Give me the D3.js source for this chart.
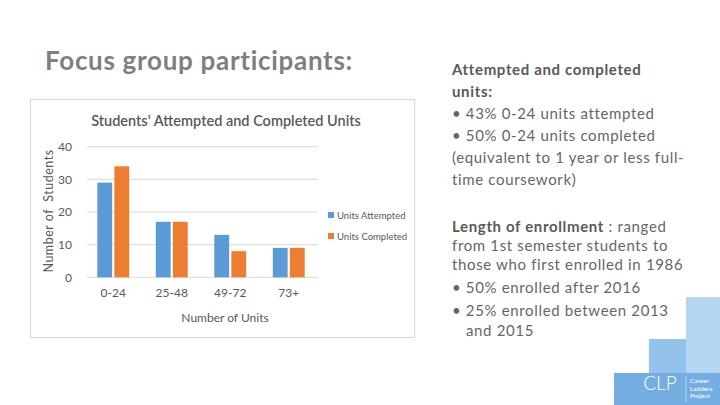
<!DOCTYPE html>
<html><head><meta charset="utf-8">
<script src="https://cdnjs.cloudflare.com/ajax/libs/d3/7.8.5/d3.min.js"></script>
<style>
html,body{margin:0;padding:0;background:#fff;}
svg{display:block;}
</style></head>
<body>
<svg id="c" width="720" height="405"></svg>
<script>
const categories = ["0-24", "25-48", "49-72", "73+"];
const seriesNames = ["Units Attempted", "Units Completed"];
const attempted = [29, 17, 13, 9];
const completed = [34, 17, 8, 9];
const yTicks = [0, 10, 20, 30, 40];

const colors = ["#5b9bd5", "#ed7d31"];
const svg = d3.select("#c");
const F = "Lato, 'Open Sans', sans-serif";

// slide title
svg.append("text").attr("x", 45).attr("y", 70).attr("font-family", F)
  .attr("font-weight", 700).attr("font-size", 26).attr("letter-spacing", 0.7).attr("fill", "#7f7f7f")
  .text("Focus group participants:");

// chart box
svg.append("rect").attr("x", 30.5).attr("y", 99.5).attr("width", 384).attr("height", 238)
  .attr("fill", "#fff").attr("stroke", "#d9d9d9").attr("stroke-width", 1.2);

const x0 = d3.scaleBand().domain(categories).range([84, 318]).paddingInner(0).paddingOuter(0);
const x1 = d3.scaleBand().domain(seriesNames).range([0, x0.bandwidth()]).paddingInner(0.13).paddingOuter(0.78);
const y = d3.scaleLinear().domain([0, 40]).range([277.3, 146.7]);

// gridlines
svg.append("g").selectAll("line").data(yTicks).join("line")
  .attr("x1", 87).attr("x2", 318).attr("y1", d => y(d)).attr("y2", d => y(d))
  .attr("stroke", "#d9d9d9").attr("stroke-width", 1);

// y axis labels
const yAxis = d3.axisLeft(y).tickValues(yTicks).tickSize(0).tickPadding(0);
const gy = svg.append("g").attr("transform", "translate(72,0)").call(yAxis);
gy.select(".domain").remove();
gy.selectAll("text").attr("font-family", F).attr("font-size", 12).attr("fill", "#595959");

// x axis labels
const xAxis = d3.axisBottom(x0).tickSize(0).tickPadding(0);
const gx = svg.append("g").attr("transform", "translate(0,288)").call(xAxis);
gx.select(".domain").remove();
gx.selectAll("text").attr("font-family", F).attr("font-size", 12).attr("fill", "#595959");

// bars
const data = categories.map((c, i) => ({c, vals: [attempted[i], completed[i]]}));
const groups = svg.append("g").selectAll("g").data(data).join("g")
  .attr("transform", d => `translate(${x0(d.c)},0)`);
groups.selectAll("rect").data(d => d.vals.map((v, j) => ({name: seriesNames[j], v, j}))).join("rect")
  .attr("x", d => x1(d.name)).attr("width", x1.bandwidth())
  .attr("y", d => y(d.v)).attr("height", d => y(0) - y(d.v))
  .attr("fill", d => colors[d.j]);

// chart title
svg.append("text").attr("x", 226).attr("y", 126).attr("text-anchor", "middle")
  .attr("font-family", F).attr("font-weight", 600).attr("font-size", 14.5).attr("fill", "#595959")
  .text("Students' Attempted and Completed Units");

// axis titles
svg.append("text").attr("x", 225).attr("y", 322).attr("text-anchor", "middle")
  .attr("font-family", F).attr("font-size", 12).attr("fill", "#595959").text("Number of Units");
svg.append("text").attr("transform", "translate(53,211) rotate(-90)").attr("text-anchor", "middle")
  .attr("font-family", F).attr("font-size", 12.5).attr("letter-spacing", 0.5).attr("fill", "#595959")
  .attr("xml:space", "preserve").text("Number of  Students");

// legend
const lg = svg.append("g").selectAll("g").data(seriesNames).join("g")
  .attr("transform", (d, i) => `translate(328,${212 + i * 21})`);
lg.append("rect").attr("width", 6).attr("height", 6).attr("fill", (d, i) => colors[i]);
lg.append("text").attr("x", 9).attr("y", 6.5).attr("font-family", F).attr("font-size", 9.5)
  .attr("fill", "#595959").text(d => d);

// decorative blocks
svg.append("rect").attr("x", 686).attr("y", 297).attr("width", 34).attr("height", 108).attr("fill", "#b5d6f2");
svg.append("rect").attr("x", 649).attr("y", 339).attr("width", 37).attr("height", 66).attr("fill", "#93c3eb");
svg.append("rect").attr("x", 614).attr("y", 373).attr("width", 72).attr("height", 32).attr("fill", "#74aee1");
svg.append("rect").attr("x", 686).attr("y", 373).attr("width", 34).attr("height", 32).attr("fill", "#74aee1");
svg.append("line").attr("x1", 686).attr("x2", 686).attr("y1", 376).attr("y2", 402).attr("stroke", "#ffffff").attr("stroke-width", 0.6).attr("opacity", 0.8);
svg.append("text").attr("x", 660).attr("y", 390).attr("text-anchor", "middle").attr("font-family", F)
  .attr("font-weight", 300).attr("font-size", 19).attr("fill", "#ffffff").text("CLP");
const clp = ["Career", "Ladders", "Project"];
svg.append("g").selectAll("text").data(clp).join("text")
  .attr("x", 690).attr("y", (d, i) => 383 + i * 7.5).attr("font-family", F).attr("font-size", 6.5)
  .attr("fill", "#ffffff").text(d => d);

// right text
const tx = 452;
const txtColor = "#666666";
function line(yy, parts, xx) {
  const t = svg.append("text").attr("x", xx || tx).attr("y", yy).attr("font-family", F).attr("font-size", 15)
    .attr("letter-spacing", 0.65).attr("fill", txtColor);
  parts.forEach(p => t.append("tspan").attr("font-weight", p.b ? 700 : 400).attr("fill", p.b ? "#595959" : txtColor).text(p.t));
  return t;
}
line(75, [{t: "Attempted and completed", b: true}]);
line(97, [{t: "units:", b: true}]);
line(119, [{t: "• 43% 0-24 units attempted"}]);
line(141, [{t: "• 50% 0-24 units completed"}]);
line(163, [{t: "(equivalent to 1 year or less full-"}]);
line(185, [{t: "time coursework)"}]);
line(232, [{t: "Length of enrollment", b: true}, {t: " : ranged"}]);
line(251, [{t: "from 1st semester students to"}]);
line(270, [{t: "those who first enrolled in 1986"}]);
line(293, [{t: "• 50% enrolled after 2016"}]);
line(316, [{t: "• 25% enrolled between 2013"}]);
line(336, [{t: "and 2015"}], 466);
</script>
</body></html>
